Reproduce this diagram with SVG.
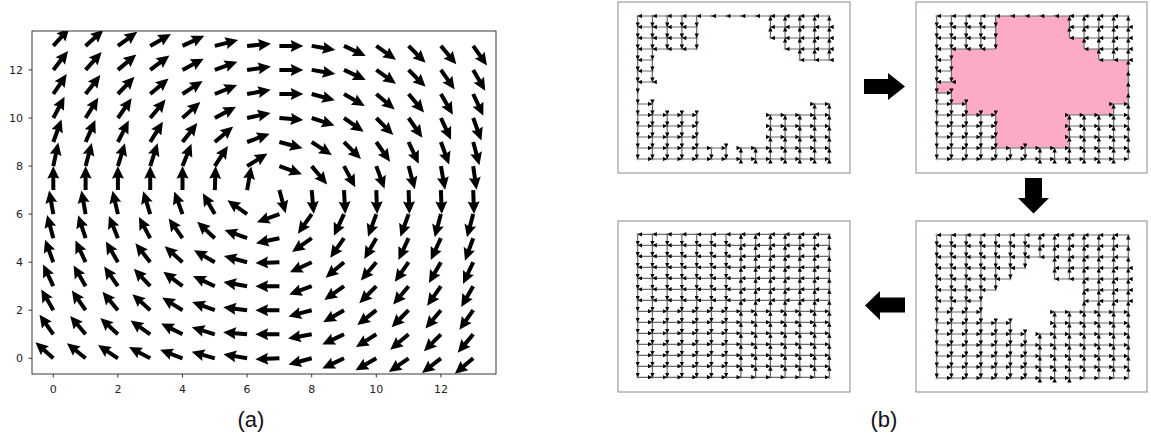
<svg xmlns="http://www.w3.org/2000/svg" width="1151" height="438" viewBox="0 0 1151 438">
<style>
.ax{fill:none;stroke:#222;stroke-width:0.9}
.tk{stroke:#222;stroke-width:0.9}
.tl{font-family:'DejaVu Sans',sans-serif;font-size:11px;fill:#222}
.cap{font-family:'Liberation Sans',Arial,sans-serif;font-size:22px;fill:#111;text-anchor:middle}
.pb{fill:#fff;stroke:#8a8a8a;stroke-width:1}
.e{fill:none;stroke:#6a6a6a;stroke-width:1.2;marker-mid:url(#ah);marker-end:url(#ah)}
.big{fill:#000}
.q{fill:#000}
</style>
<defs>
<marker id="ah" viewBox="0 0 10 10" refX="10" refY="5" markerWidth="5" markerHeight="4.4" markerUnits="userSpaceOnUse" orient="auto"><path d="M0,0 L10,5 L0,10 z" fill="#000"/></marker>
<pattern id="dots" patternUnits="userSpaceOnUse" x="-7.37" y="-5.5" width="14.74" height="11"><circle cx="7.37" cy="5.5" r="1.2" fill="#6aaee0"/></pattern>
<path id="q" class="q" d="M0,-2 L12.5,-2 L11.3,-6 L24,0 L11.3,6 L12.5,2 L0,2 Z"/>
<clipPath id="axc"><rect x="32" y="31" width="464" height="343"/></clipPath>
<path id="rowL" class="e" d="M191.6 0H176.9H162.1H147.4H132.7H117.9H103.2H88.4H73.7H59H44.2H29.5H14.7H0"/>
<path id="rowR" class="e" d="M0 0H14.7H29.5H44.2H59H73.7H88.4H103.2H117.9H132.7H147.4H162.1H176.9H191.6"/>
<path id="colD" class="e" d="M0 0V11V22V33V44V55V66V77V88V99V110V121V132V143"/>
<path id="colU" class="e" d="M0 143V132V121V110V99V88V77V66V55V44V33V22V11V0"/>
</defs>

<g id="plot-a">
<g clip-path="url(#axc)">
<use href="#q" transform="translate(53.3 45.9)rotate(-48)"/><use href="#q" transform="translate(85.6 45.9)rotate(-42)"/><use href="#q" transform="translate(117.9 45.9)rotate(-36)"/><use href="#q" transform="translate(150.2 45.9)rotate(-30)"/><use href="#q" transform="translate(182.5 45.9)rotate(-25)"/><use href="#q" transform="translate(214.8 45.9)rotate(-14)"/><use href="#q" transform="translate(247.1 45.9)rotate(-5)"/><use href="#q" transform="translate(279.4 45.9)rotate(0)"/><use href="#q" transform="translate(311.7 45.9)rotate(10)"/><use href="#q" transform="translate(344 45.9)rotate(25)"/><use href="#q" transform="translate(376.3 45.9)rotate(35)"/><use href="#q" transform="translate(408.6 45.9)rotate(45)"/><use href="#q" transform="translate(440.9 45.9)rotate(50)"/><use href="#q" transform="translate(473.2 45.9)rotate(55)"/>
<use href="#q" transform="translate(53.3 69.9)rotate(-52)"/><use href="#q" transform="translate(85.6 69.9)rotate(-48)"/><use href="#q" transform="translate(117.9 69.9)rotate(-40)"/><use href="#q" transform="translate(150.2 69.9)rotate(-37)"/><use href="#q" transform="translate(182.5 69.9)rotate(-28)"/><use href="#q" transform="translate(214.8 69.9)rotate(-20)"/><use href="#q" transform="translate(247.1 69.9)rotate(-8)"/><use href="#q" transform="translate(279.4 69.9)rotate(0)"/><use href="#q" transform="translate(311.7 69.9)rotate(10)"/><use href="#q" transform="translate(344 69.9)rotate(25)"/><use href="#q" transform="translate(376.3 69.9)rotate(35)"/><use href="#q" transform="translate(408.6 69.9)rotate(45)"/><use href="#q" transform="translate(440.9 69.9)rotate(55)"/><use href="#q" transform="translate(473.2 69.9)rotate(60)"/>
<use href="#q" transform="translate(53.3 94)rotate(-56)"/><use href="#q" transform="translate(85.6 94)rotate(-52)"/><use href="#q" transform="translate(117.9 94)rotate(-46)"/><use href="#q" transform="translate(150.2 94)rotate(-40)"/><use href="#q" transform="translate(182.5 94)rotate(-33)"/><use href="#q" transform="translate(214.8 94)rotate(-22)"/><use href="#q" transform="translate(247.1 94)rotate(-10)"/><use href="#q" transform="translate(279.4 94)rotate(0)"/><use href="#q" transform="translate(311.7 94)rotate(15)"/><use href="#q" transform="translate(344 94)rotate(30)"/><use href="#q" transform="translate(376.3 94)rotate(40)"/><use href="#q" transform="translate(408.6 94)rotate(50)"/><use href="#q" transform="translate(440.9 94)rotate(60)"/><use href="#q" transform="translate(473.2 94)rotate(65)"/>
<use href="#q" transform="translate(53.3 118)rotate(-62)"/><use href="#q" transform="translate(85.6 118)rotate(-58)"/><use href="#q" transform="translate(117.9 118)rotate(-55)"/><use href="#q" transform="translate(150.2 118)rotate(-50)"/><use href="#q" transform="translate(182.5 118)rotate(-42)"/><use href="#q" transform="translate(214.8 118)rotate(-28)"/><use href="#q" transform="translate(247.1 118)rotate(-12)"/><use href="#q" transform="translate(279.4 118)rotate(5)"/><use href="#q" transform="translate(311.7 118)rotate(18)"/><use href="#q" transform="translate(344 118)rotate(35)"/><use href="#q" transform="translate(376.3 118)rotate(45)"/><use href="#q" transform="translate(408.6 118)rotate(55)"/><use href="#q" transform="translate(440.9 118)rotate(65)"/><use href="#q" transform="translate(473.2 118)rotate(70)"/>
<use href="#q" transform="translate(53.3 142)rotate(-70)"/><use href="#q" transform="translate(85.6 142)rotate(-66)"/><use href="#q" transform="translate(117.9 142)rotate(-63)"/><use href="#q" transform="translate(150.2 142)rotate(-58)"/><use href="#q" transform="translate(182.5 142)rotate(-52)"/><use href="#q" transform="translate(214.8 142)rotate(-40)"/><use href="#q" transform="translate(247.1 142)rotate(-20)"/><use href="#q" transform="translate(279.4 142)rotate(15)"/><use href="#q" transform="translate(311.7 142)rotate(33)"/><use href="#q" transform="translate(344 142)rotate(45)"/><use href="#q" transform="translate(376.3 142)rotate(55)"/><use href="#q" transform="translate(408.6 142)rotate(65)"/><use href="#q" transform="translate(440.9 142)rotate(70)"/><use href="#q" transform="translate(473.2 142)rotate(75)"/>
<use href="#q" transform="translate(53.3 166.1)rotate(-78)"/><use href="#q" transform="translate(85.6 166.1)rotate(-75)"/><use href="#q" transform="translate(117.9 166.1)rotate(-73)"/><use href="#q" transform="translate(150.2 166.1)rotate(-72)"/><use href="#q" transform="translate(182.5 166.1)rotate(-68)"/><use href="#q" transform="translate(214.8 166.1)rotate(-57)"/><use href="#q" transform="translate(247.1 166.1)rotate(-32)"/><use href="#q" transform="translate(279.4 166.1)rotate(20)"/><use href="#q" transform="translate(311.7 166.1)rotate(50)"/><use href="#q" transform="translate(344 166.1)rotate(62)"/><use href="#q" transform="translate(376.3 166.1)rotate(70)"/><use href="#q" transform="translate(408.6 166.1)rotate(75)"/><use href="#q" transform="translate(440.9 166.1)rotate(80)"/><use href="#q" transform="translate(473.2 166.1)rotate(82)"/>
<use href="#q" transform="translate(53.3 190.1)rotate(-90)"/><use href="#q" transform="translate(85.6 190.1)rotate(-90)"/><use href="#q" transform="translate(117.9 190.1)rotate(-90)"/><use href="#q" transform="translate(150.2 190.1)rotate(-90)"/><use href="#q" transform="translate(182.5 190.1)rotate(-90)"/><use href="#q" transform="translate(214.8 190.1)rotate(-88)"/><use href="#q" transform="translate(247.1 190.1)rotate(-80)"/><use href="#q" transform="translate(279.4 190.1)rotate(75)"/><use href="#q" transform="translate(311.7 190.1)rotate(85)"/><use href="#q" transform="translate(344 190.1)rotate(87)"/><use href="#q" transform="translate(376.3 190.1)rotate(88)"/><use href="#q" transform="translate(408.6 190.1)rotate(88)"/><use href="#q" transform="translate(440.9 190.1)rotate(88)"/><use href="#q" transform="translate(473.2 190.1)rotate(88)"/>
<use href="#q" transform="translate(53.3 214.1)rotate(-100)"/><use href="#q" transform="translate(85.6 214.1)rotate(-100)"/><use href="#q" transform="translate(117.9 214.1)rotate(-103)"/><use href="#q" transform="translate(150.2 214.1)rotate(-107)"/><use href="#q" transform="translate(182.5 214.1)rotate(-110)"/><use href="#q" transform="translate(214.8 214.1)rotate(-120)"/><use href="#q" transform="translate(247.1 214.1)rotate(-145)"/><use href="#q" transform="translate(279.4 214.1)rotate(-200)"/><use href="#q" transform="translate(311.7 214.1)rotate(-235)"/><use href="#q" transform="translate(344 214.1)rotate(-245)"/><use href="#q" transform="translate(376.3 214.1)rotate(-250)"/><use href="#q" transform="translate(408.6 214.1)rotate(-250)"/><use href="#q" transform="translate(440.9 214.1)rotate(-255)"/><use href="#q" transform="translate(473.2 214.1)rotate(-255)"/>
<use href="#q" transform="translate(53.3 238.2)rotate(-105)"/><use href="#q" transform="translate(85.6 238.2)rotate(-108)"/><use href="#q" transform="translate(117.9 238.2)rotate(-112)"/><use href="#q" transform="translate(150.2 238.2)rotate(-118)"/><use href="#q" transform="translate(182.5 238.2)rotate(-125)"/><use href="#q" transform="translate(214.8 238.2)rotate(-137)"/><use href="#q" transform="translate(247.1 238.2)rotate(-160)"/><use href="#q" transform="translate(279.4 238.2)rotate(-192)"/><use href="#q" transform="translate(311.7 238.2)rotate(-215)"/><use href="#q" transform="translate(344 238.2)rotate(-235)"/><use href="#q" transform="translate(376.3 238.2)rotate(-240)"/><use href="#q" transform="translate(408.6 238.2)rotate(-245)"/><use href="#q" transform="translate(440.9 238.2)rotate(-245)"/><use href="#q" transform="translate(473.2 238.2)rotate(-250)"/>
<use href="#q" transform="translate(53.3 262.2)rotate(-110)"/><use href="#q" transform="translate(85.6 262.2)rotate(-115)"/><use href="#q" transform="translate(117.9 262.2)rotate(-120)"/><use href="#q" transform="translate(150.2 262.2)rotate(-128)"/><use href="#q" transform="translate(182.5 262.2)rotate(-138)"/><use href="#q" transform="translate(214.8 262.2)rotate(-150)"/><use href="#q" transform="translate(247.1 262.2)rotate(-165)"/><use href="#q" transform="translate(279.4 262.2)rotate(-182)"/><use href="#q" transform="translate(311.7 262.2)rotate(-205)"/><use href="#q" transform="translate(344 262.2)rotate(-220)"/><use href="#q" transform="translate(376.3 262.2)rotate(-230)"/><use href="#q" transform="translate(408.6 262.2)rotate(-235)"/><use href="#q" transform="translate(440.9 262.2)rotate(-240)"/><use href="#q" transform="translate(473.2 262.2)rotate(-245)"/>
<use href="#q" transform="translate(53.3 286.2)rotate(-115)"/><use href="#q" transform="translate(85.6 286.2)rotate(-120)"/><use href="#q" transform="translate(117.9 286.2)rotate(-125)"/><use href="#q" transform="translate(150.2 286.2)rotate(-133)"/><use href="#q" transform="translate(182.5 286.2)rotate(-143)"/><use href="#q" transform="translate(214.8 286.2)rotate(-155)"/><use href="#q" transform="translate(247.1 286.2)rotate(-170)"/><use href="#q" transform="translate(279.4 286.2)rotate(-180)"/><use href="#q" transform="translate(311.7 286.2)rotate(-200)"/><use href="#q" transform="translate(344 286.2)rotate(-215)"/><use href="#q" transform="translate(376.3 286.2)rotate(-225)"/><use href="#q" transform="translate(408.6 286.2)rotate(-230)"/><use href="#q" transform="translate(440.9 286.2)rotate(-235)"/><use href="#q" transform="translate(473.2 286.2)rotate(-240)"/>
<use href="#q" transform="translate(53.3 310.2)rotate(-120)"/><use href="#q" transform="translate(85.6 310.2)rotate(-125)"/><use href="#q" transform="translate(117.9 310.2)rotate(-130)"/><use href="#q" transform="translate(150.2 310.2)rotate(-138)"/><use href="#q" transform="translate(182.5 310.2)rotate(-148)"/><use href="#q" transform="translate(214.8 310.2)rotate(-160)"/><use href="#q" transform="translate(247.1 310.2)rotate(-173)"/><use href="#q" transform="translate(279.4 310.2)rotate(-180)"/><use href="#q" transform="translate(311.7 310.2)rotate(-195)"/><use href="#q" transform="translate(344 310.2)rotate(-210)"/><use href="#q" transform="translate(376.3 310.2)rotate(-218)"/><use href="#q" transform="translate(408.6 310.2)rotate(-225)"/><use href="#q" transform="translate(440.9 310.2)rotate(-230)"/><use href="#q" transform="translate(473.2 310.2)rotate(-235)"/>
<use href="#q" transform="translate(53.3 334.3)rotate(-125)"/><use href="#q" transform="translate(85.6 334.3)rotate(-130)"/><use href="#q" transform="translate(117.9 334.3)rotate(-137)"/><use href="#q" transform="translate(150.2 334.3)rotate(-145)"/><use href="#q" transform="translate(182.5 334.3)rotate(-153)"/><use href="#q" transform="translate(214.8 334.3)rotate(-163)"/><use href="#q" transform="translate(247.1 334.3)rotate(-175)"/><use href="#q" transform="translate(279.4 334.3)rotate(-180)"/><use href="#q" transform="translate(311.7 334.3)rotate(-190)"/><use href="#q" transform="translate(344 334.3)rotate(-205)"/><use href="#q" transform="translate(376.3 334.3)rotate(-212)"/><use href="#q" transform="translate(408.6 334.3)rotate(-220)"/><use href="#q" transform="translate(440.9 334.3)rotate(-225)"/><use href="#q" transform="translate(473.2 334.3)rotate(-230)"/>
<use href="#q" transform="translate(53.3 358.3)rotate(-138)"/><use href="#q" transform="translate(85.6 358.3)rotate(-141)"/><use href="#q" transform="translate(117.9 358.3)rotate(-146)"/><use href="#q" transform="translate(150.2 358.3)rotate(-152)"/><use href="#q" transform="translate(182.5 358.3)rotate(-159)"/><use href="#q" transform="translate(214.8 358.3)rotate(-164)"/><use href="#q" transform="translate(247.1 358.3)rotate(-170)"/><use href="#q" transform="translate(279.4 358.3)rotate(-182)"/><use href="#q" transform="translate(311.7 358.3)rotate(-195)"/><use href="#q" transform="translate(344 358.3)rotate(-205)"/><use href="#q" transform="translate(376.3 358.3)rotate(-210)"/><use href="#q" transform="translate(408.6 358.3)rotate(-215)"/><use href="#q" transform="translate(440.9 358.3)rotate(-218)"/><use href="#q" transform="translate(473.2 358.3)rotate(-220)"/>
</g>
<rect class="ax" x="32" y="31" width="464" height="343"/>
<path class="tk" d="M53.3 374v3.5M117.9 374v3.5M182.5 374v3.5M247.1 374v3.5M311.7 374v3.5M376.3 374v3.5M440.9 374v3.5M32 358.3h-3.5M32 310.2h-3.5M32 262.2h-3.5M32 214.1h-3.5M32 166.1h-3.5M32 118h-3.5M32 69.9h-3.5"/>
<g class="tl" text-anchor="middle">
<text x="53.3" y="393">0</text><text x="117.9" y="393">2</text><text x="182.5" y="393">4</text><text x="247.1" y="393">6</text><text x="311.7" y="393">8</text><text x="376.3" y="393">10</text><text x="440.9" y="393">12</text>
</g>
<g class="tl" text-anchor="end">
<text x="23" y="362.3">0</text><text x="23" y="314.2">2</text><text x="23" y="266.2">4</text><text x="23" y="218.1">6</text><text x="23" y="170.1">8</text><text x="23" y="122">10</text><text x="23" y="73.9">12</text>
</g>
</g>
<text class="cap" x="251" y="427">(a)</text>
<text class="cap" x="884" y="427">(b)</text>

<g id="panel-tl" transform="translate(637.7 16)">
<rect class="pb" x="-19.7" y="-14" width="232" height="171"/>
<rect x="-6" y="-5" width="204" height="154" fill="url(#dots)"/>
<polygon fill="#fff" points="66.3,5.5 125.3,5.5 125.3,27.5 140,27.5 140,38.5 154.8,38.5 154.8,49.5 199,49.5 199,82.5 169.5,82.5 169.5,93.5 125.3,93.5 125.3,126.5 66.3,126.5 66.3,93.5 22.1,93.5 22.1,82.5 7.4,82.5 7.4,71.5 22.1,71.5 22.1,38.5 66.3,38.5"/>
<use href="#rowL" y="0"/>
<path class="e" d="M59 11H44.2H29.5H14.7H0M191.6 11H176.9H162.1H147.4H132.7"/>
<path class="e" d="M59 22H44.2H29.5H14.7H0M191.6 22H176.9H162.1H147.4H132.7"/>
<path class="e" d="M59 33H44.2H29.5H14.7H0M191.6 33H176.9H162.1H147.4"/>
<path class="e" d="M14.7 44H0M191.6 44H176.9H162.1"/>
<path class="e" d="M14.7 55H0M14.7 66H0"/>
<path class="e" d="M0 88H14.7M176.9 88H191.6"/>
<path class="e" d="M0 99H14.7H29.5H44.2H59M132.7 99H147.4H162.1H176.9H191.6"/>
<path class="e" d="M0 110H14.7H29.5H44.2H59M132.7 110H147.4H162.1H176.9H191.6"/>
<path class="e" d="M0 121H14.7H29.5H44.2H59M132.7 121H147.4H162.1H176.9H191.6"/>
<path class="e" d="M0 132H14.7H29.5H44.2H59H73.7H88.4M103.2 132H117.9H132.7H147.4H162.1H176.9H191.6"/>
<use href="#rowR" y="143"/>
<use href="#colD" x="0"/>
<path class="e" d="M14.7 0V11V22V33V44V55V66M14.7 88V99V110V121V132V143"/>
<path class="e" d="M29.5 0V11V22V33M29.5 99V110V121V132V143"/>
<path class="e" d="M44.2 0V11V22V33M44.2 99V110V121V132V143"/>
<path class="e" d="M59 0V11V22V33M59 99V110V121V132V143"/>
<path class="e" d="M73.7 132V143M88.4 132V143M103.2 143V132M117.9 143V132"/>
<path class="e" d="M132.7 22V11V0M132.7 143V132V121V110V99"/>
<path class="e" d="M147.4 33V22V11V0M147.4 143V132V121V110V99"/>
<path class="e" d="M162.1 44V33V22V11V0M162.1 143V132V121V110V99"/>
<path class="e" d="M176.9 44V33V22V11V0M176.9 143V132V121V110V99V88"/>
<path class="e" d="M191.6 44V33V22V11V0M191.6 143V132V121V110V99V88"/>
</g>

<g id="panel-tr" transform="translate(936.7 16)">
<rect class="pb" x="-20.7" y="-14" width="231" height="171"/>
<rect x="-6" y="-5" width="204" height="154" fill="url(#dots)"/>
<polygon fill="#fdaac6" points="59,0 132.7,0 132.7,22 147.4,22 147.4,33 162.1,33 162.1,44 191.6,44 191.6,88 176.9,88 176.9,99 132.7,99 132.7,132 59,132 59,99 29.5,99 29.5,88 14.7,88 14.7,77 0,77 0,66 14.7,66 14.7,33 59,33"/>
<use href="#rowL" y="0"/>
<path class="e" d="M59 11H44.2H29.5H14.7H0M191.6 11H176.9H162.1H147.4H132.7"/>
<path class="e" d="M59 22H44.2H29.5H14.7H0M191.6 22H176.9H162.1H147.4H132.7"/>
<path class="e" d="M59 33H44.2H29.5H14.7H0M191.6 33H176.9H162.1H147.4"/>
<path class="e" d="M14.7 44H0M191.6 44H176.9H162.1"/>
<path class="e" d="M14.7 55H0M14.7 66H0"/>
<path class="e" d="M0 77H14.7"/>
<path class="e" d="M0 88H14.7H29.5M176.9 88H191.6"/>
<path class="e" d="M0 99H14.7H29.5H44.2H59M132.7 99H147.4H162.1H176.9H191.6"/>
<path class="e" d="M0 110H14.7H29.5H44.2H59M132.7 110H147.4H162.1H176.9H191.6"/>
<path class="e" d="M0 121H14.7H29.5H44.2H59M132.7 121H147.4H162.1H176.9H191.6"/>
<use href="#rowR" y="132"/>
<use href="#rowR" y="143"/>
<use href="#colD" x="0"/>
<path class="e" d="M14.7 0V11V22V33V44V55V66M14.7 77V88V99V110V121V132V143"/>
<path class="e" d="M29.5 0V11V22V33M29.5 88V99V110V121V132V143"/>
<path class="e" d="M44.2 0V11V22V33M44.2 99V110V121V132V143"/>
<path class="e" d="M59 0V11V22V33M59 99V110V121V132V143"/>
<path class="e" d="M73.7 132V143M88.4 132V143M103.2 143V132M117.9 143V132"/>
<path class="e" d="M132.7 22V11V0M132.7 143V132V121V110V99"/>
<path class="e" d="M147.4 33V22V11V0M147.4 143V132V121V110V99"/>
<path class="e" d="M162.1 44V33V22V11V0M162.1 143V132V121V110V99"/>
<path class="e" d="M176.9 44V33V22V11V0M176.9 143V132V121V110V99V88"/>
<use href="#colU" x="191.6"/>
</g>

<g id="panel-br" transform="translate(936.7 235)">
<rect class="pb" x="-20.7" y="-14" width="231" height="171"/>
<rect x="-6" y="-5" width="204" height="154" fill="url(#dots)"/>
<polygon fill="#fff" points="95.8,27.5 110.6,27.5 110.6,49.5 140,49.5 140,71.5 110.6,71.5 110.6,93.5 81.1,93.5 81.1,82.5 51.6,82.5 51.6,60.5 66.3,60.5 66.3,49.5 81.1,49.5 81.1,38.5 95.8,38.5"/>
<use href="#rowL" y="0"/>
<use href="#rowL" y="11"/>
<use href="#rowL" y="22"/>
<path class="e" d="M88.4 33H73.7H59H44.2H29.5H14.7H0M191.6 33H176.9H162.1H147.4H132.7H117.9"/>
<path class="e" d="M73.7 44H59H44.2H29.5H14.7H0M191.6 44H176.9H162.1H147.4H132.7H117.9"/>
<path class="e" d="M59 55H44.2H29.5H14.7H0M191.6 55H176.9H162.1H147.4"/>
<path class="e" d="M44.2 66H29.5H14.7H0M191.6 66H176.9H162.1H147.4"/>
<path class="e" d="M0 77H14.7H29.5H44.2M117.9 77H132.7H147.4H162.1H176.9H191.6"/>
<path class="e" d="M0 88H14.7H29.5H44.2H59H73.7M117.9 88H132.7H147.4H162.1H176.9H191.6"/>
<path class="e" d="M0 99H14.7H29.5H44.2H59H73.7H88.4M103.2 99H117.9H132.7H147.4H162.1H176.9H191.6"/>
<use href="#rowR" y="110"/>
<use href="#rowR" y="121"/>
<use href="#rowR" y="132"/>
<use href="#rowR" y="143"/>
<use href="#colD" x="0"/>
<use href="#colD" x="14.7"/>
<use href="#colD" x="29.5"/>
<use href="#colD" x="44.2"/>
<path class="e" d="M59 0V11V22V33V44V55M59 88V99V110V121V132V143"/>
<path class="e" d="M73.7 0V11V22V33V44M73.7 88V99V110V121V132V143"/>
<path class="e" d="M88.4 0V11V22V33M88.4 99V110V121V132V143"/>
<path class="e" d="M103.2 22V11V0M103.2 143V132V121V110V99"/>
<path class="e" d="M117.9 44V33V22V11V0M117.9 143V132V121V110V99V88V77"/>
<path class="e" d="M132.7 44V33V22V11V0M132.7 143V132V121V110V99V88V77"/>
<use href="#colU" x="147.4"/>
<use href="#colU" x="162.1"/>
<use href="#colU" x="176.9"/>
<use href="#colU" x="191.6"/>
</g>

<g id="panel-bl" transform="translate(637.7 234.3)">
<rect class="pb" x="-19.7" y="-13.3" width="232" height="171"/>
<rect x="-6" y="-5" width="204" height="154" fill="url(#dots)"/>
<use href="#rowL" y="0"/><use href="#rowL" y="11"/><use href="#rowL" y="22"/><use href="#rowL" y="33"/><use href="#rowL" y="44"/><use href="#rowL" y="55"/><use href="#rowL" y="66"/>
<use href="#rowR" y="77"/><use href="#rowR" y="88"/><use href="#rowR" y="99"/><use href="#rowR" y="110"/><use href="#rowR" y="121"/><use href="#rowR" y="132"/><use href="#rowR" y="143"/>
<use href="#colD" x="0"/><use href="#colD" x="14.7"/><use href="#colD" x="29.5"/><use href="#colD" x="44.2"/><use href="#colD" x="59"/><use href="#colD" x="73.7"/><use href="#colD" x="88.4"/>
<use href="#colU" x="103.2"/><use href="#colU" x="117.9"/><use href="#colU" x="132.7"/><use href="#colU" x="147.4"/><use href="#colU" x="162.1"/><use href="#colU" x="176.9"/><use href="#colU" x="191.6"/>
</g>

<g id="connectors">
<polygon class="big" points="864,79 888,79 888,73 905,86.5 888,100 888,94 864,94"/>
<polygon class="big" points="1025,178 1042,178 1042,198 1049,198 1033.5,213.5 1018,198 1025,198"/>
<polygon class="big" points="905,297.5 880,297.5 880,291 865,305.5 880,320 880,312.5 905,312.5"/>
</g>
</svg>
